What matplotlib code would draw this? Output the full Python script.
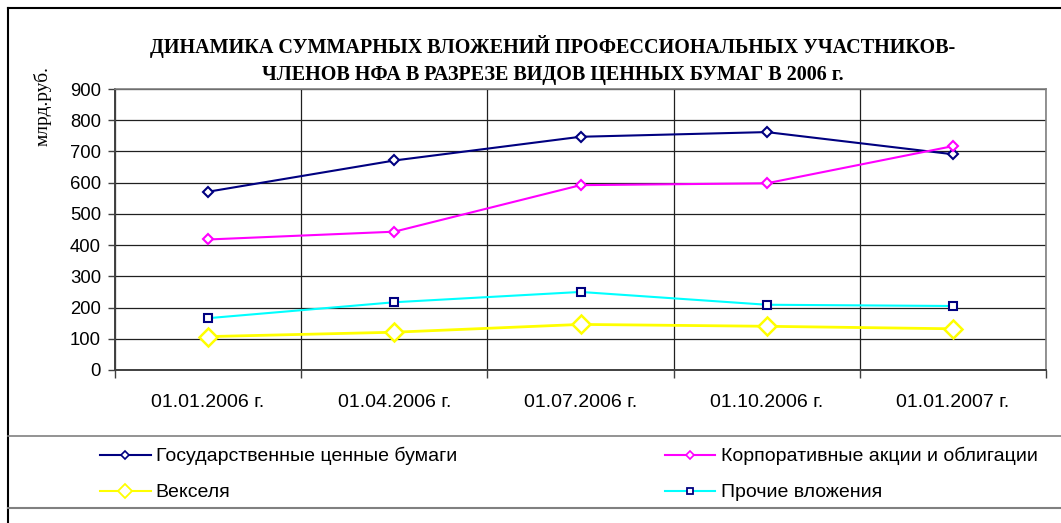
import matplotlib.pyplot as plt
from matplotlib.lines import Line2D

dates = ['01.01.2006 г.', '01.04.2006 г.', '01.07.2006 г.', '01.10.2006 г.', '01.01.2007 г.']
gov = [571, 671, 747, 762, 691]
corp = [418, 443, 592, 598, 717]
bills = [107, 121, 146, 140, 132]
other = [166, 217, 250, 209, 205]

W, H = 1061, 523
fig = plt.figure(figsize=(W / 100, H / 100), dpi=100)

# plot area in pixels: left 115, top 89, right 1046, bottom 370
ax = fig.add_axes([115 / W, 1 - 370 / H, (1046 - 115) / W, (370 - 89) / H])

x = list(range(len(dates)))
l_gov, = ax.plot(x, gov, color='#000080', lw=1.5, marker='D', ms=5, mfc='white', mec='#000080', mew=1.5,
                 label='Государственные ценные бумаги')
l_corp, = ax.plot(x, corp, color='#FF00FF', lw=1.5, marker='D', ms=5, mfc='white', mec='#FF00FF', mew=1.5,
                  label='Корпоративные акции и облигации')
l_bills, = ax.plot(x, bills, color='#FFFF00', lw=2, marker='D', ms=9, mfc='white', mec='#FFFF00', mew=1.8,
                   label='Векселя')
l_other, = ax.plot(x, other, color='#00FFFF', lw=1.5, marker='s', ms=6, mfc='white', mec='#000080', mew=1.5,
                   label='Прочие вложения')

ax.set_xlim(-0.5, len(dates) - 0.5)
ax.set_ylim(0, 900)
ax.set_yticks(range(0, 901, 100))
ax.set_xticks(x)
ax.set_xticklabels(dates)
ax.set_xticks([i - 0.5 for i in range(len(dates) + 1)], minor=True)
ax.tick_params(axis='x', which='major', length=0, pad=17, labelsize=14)
ax.tick_params(axis='x', which='minor', length=6, width=1, color='#404040')
ax.tick_params(axis='y', length=5, width=1, color='#404040', labelsize=13.3, pad=5)
for lab in ax.get_xticklabels() + ax.get_yticklabels():
    lab.set_fontfamily('Liberation Sans')

ax.grid(True, axis='y', which='major', color='#202020', lw=0.9)
ax.grid(True, axis='x', which='minor', color='#202020', lw=0.9)
ax.set_axisbelow(True)
for side in ['top', 'right']:
    ax.spines[side].set_color('#808080')
    ax.spines[side].set_linewidth(1.2)
for side in ['left', 'bottom']:
    ax.spines[side].set_color('#404040')
    ax.spines[side].set_linewidth(1.4)

fig.text(553 / W, 1 - 47 / H, 'ДИНАМИКА СУММАРНЫХ ВЛОЖЕНИЙ ПРОФЕССИОНАЛЬНЫХ УЧАСТНИКОВ-',
         ha='center', va='center', fontsize=14.5, fontweight='bold', family='Liberation Serif')
fig.text(553 / W, 1 - 75 / H, 'ЧЛЕНОВ НФА В РАЗРЕЗЕ ВИДОВ ЦЕННЫХ БУМАГ В 2006 г.',
         ha='center', va='center', fontsize=14.5, fontweight='bold', family='Liberation Serif')
fig.text(43 / W, 1 - 106 / H, 'млрд.руб.', rotation=90, ha='center', va='center',
         fontsize=14, family='Liberation Serif')

# outer border and legend box
fig.add_artist(Line2D([8 / W, 8 / W], [0, 1 - 8 / H], color='black', lw=1.5))
fig.add_artist(Line2D([8 / W, 1], [1 - 8 / H, 1 - 8 / H], color='black', lw=1.5))
fig.add_artist(Line2D([8 / W, 1], [1 - 436 / H, 1 - 436 / H], color='#808080', lw=1.2))
fig.add_artist(Line2D([8 / W, 1], [1 - 508 / H, 1 - 508 / H], color='#808080', lw=1.5))

# legend markers are smaller than on the lines
h_gov = Line2D([], [], color='#000080', lw=1.5, marker='D', ms=4, mfc='white', mec='#000080', mew=1.2)
h_corp = Line2D([], [], color='#FF00FF', lw=1.5, marker='D', ms=4, mfc='white', mec='#FF00FF', mew=1.2)
h_bills = Line2D([], [], color='#FFFF00', lw=1.5, marker='D', ms=7, mfc='white', mec='#FFFF00', mew=1.3)
h_other = Line2D([], [], color='#00FFFF', lw=1.5, marker='s', ms=5, mfc='white', mec='#000080', mew=1.3)
handles = [h_gov, h_bills, h_corp, h_other]
labels = [l_gov.get_label(), l_bills.get_label(), l_corp.get_label(), l_other.get_label()]
fig.legend(handles, labels, loc='upper left', bbox_to_anchor=(100 / W, 1 - 447 / H), ncol=2,
           frameon=False, borderpad=0, borderaxespad=0, handlelength=2.6, handletextpad=0.26,
           columnspacing=10.7, labelspacing=0.95,
           prop={'family': 'Liberation Sans', 'size': 14})

fig.savefig('out.png', dpi=100)
